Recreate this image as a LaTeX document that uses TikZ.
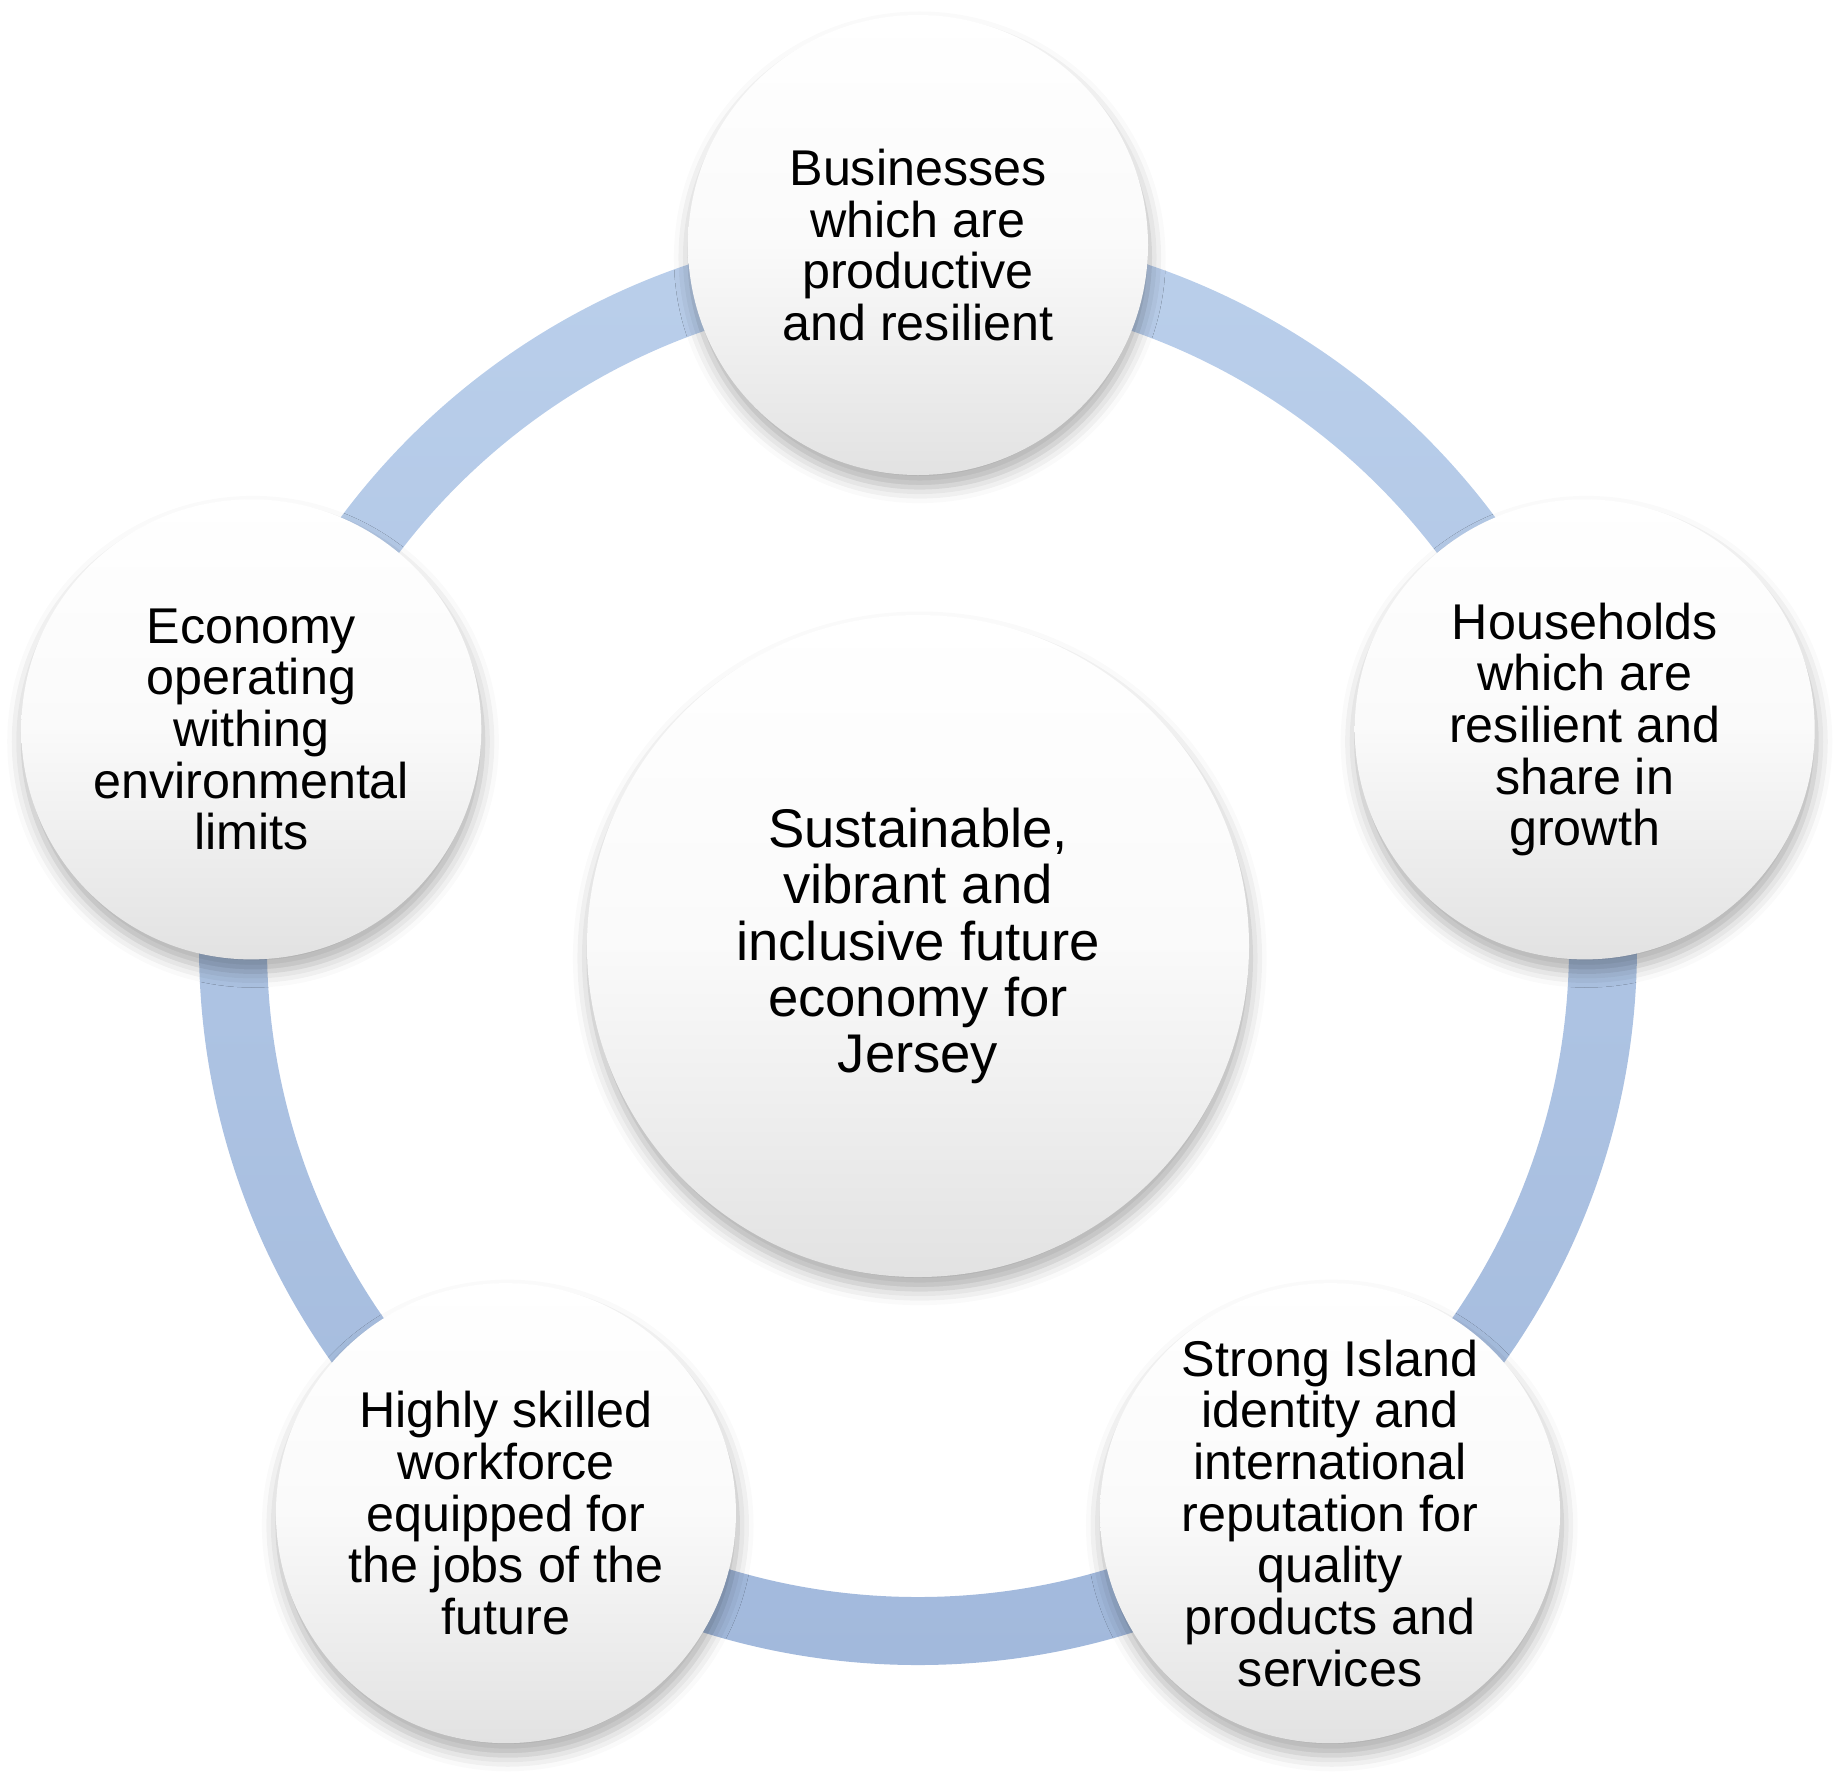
\documentclass[tikz,border=0pt]{standalone}
\usepackage{fontspec}
\setmainfont{Liberation Sans}
\usepackage{tikz}
\usetikzlibrary{
  positioning,
  calc,
  backgrounds,
  shadows.blur
}
\definecolor{ringtop}{RGB}{186,207,235}
\definecolor{ringbottom}{RGB}{162,185,220}
\definecolor{discbottom}{RGB}{226,226,226}
\tikzset{
  goalnode/.style={
    circle, minimum size=4.6cm, inner sep=-4pt,
    top color=white, bottom color=discbottom, middle color=white!98!black,
    blur shadow={shadow xshift=0.5pt, shadow yshift=-3.5pt, shadow blur radius=4.5pt, shadow opacity=32},
    font=\fontsize{14.3}{14.7}\selectfont, align=center
  },
  corenode/.style={
    goalnode, minimum size=6.62cm,
    font=\fontsize{15.5}{16}\selectfont
  },
  ringband/.style={
    top color=ringtop, bottom color=ringbottom, even odd rule
  }
}

\begin{document}
\begin{tikzpicture}
    \useasboundingbox (-9.18,-8.25) rectangle (9.19,9.46);

    % Centre
    \node[corenode] (core) at (0,0) {Sustainable,\\vibrant and\\inclusive future\\economy for\\Jersey};

    % Outer goals - pentagon layout
    \node[goalnode] (business) at (90:7.01) {Businesses\\which are\\productive\\and resilient};
    \node[goalnode] (household) at (18:7.01) {Households\\which are\\resilient and\\share in\\growth};
    \node[goalnode] (identity) at (-54:7.01) {Strong Island\\identity and\\international\\reputation for\\quality\\products and\\services};
    \node[goalnode] (workforce) at (-126:7.01) {Highly skilled\\workforce\\equipped for\\the jobs of the\\future};
    \node[goalnode] (environment) at (162:7.01) {Economy\\operating\\withing\\environmental\\limits};

    % Ring behind the goals
    \begin{scope}[on background layer]
      \path[ringband] (core.center) circle (7.19) (core.center) circle (6.51);
    \end{scope}

  \end{tikzpicture}
\end{document}
